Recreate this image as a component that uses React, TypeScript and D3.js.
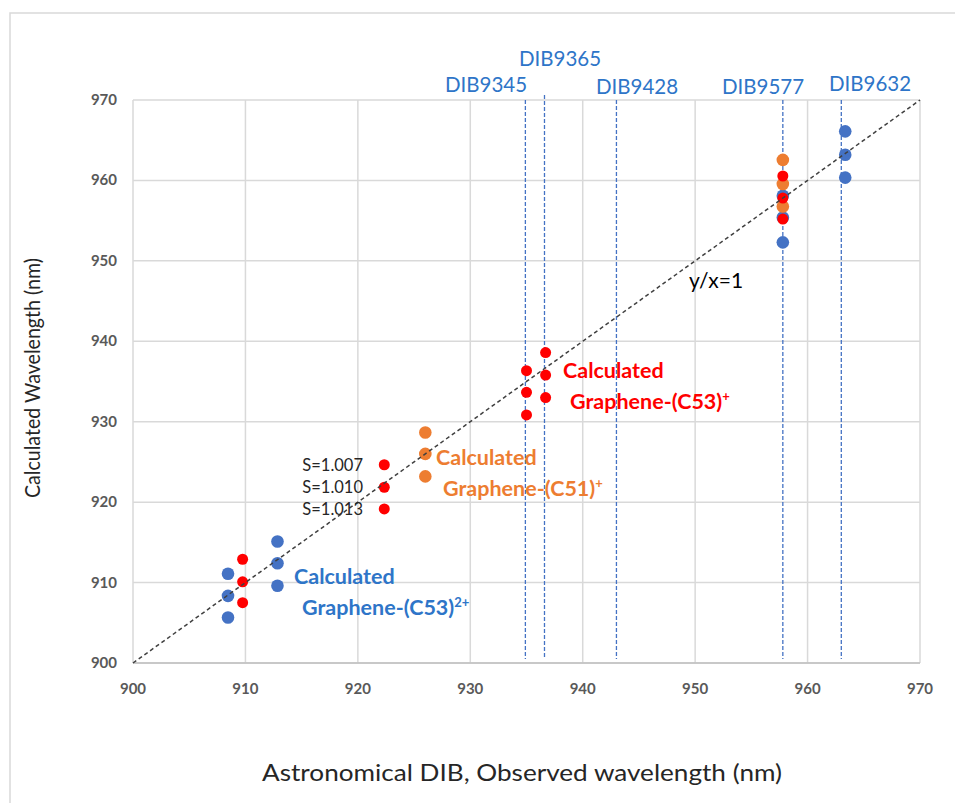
import React from "react";
import * as d3 from "d3";

const xTicks = [900, 910, 920, 930, 940, 950, 960, 970];
const yTicks = [900, 910, 920, 930, 940, 950, 960, 970];

const dibNames = ["DIB9345", "DIB9365", "DIB9428", "DIB9577", "DIB9632"];
const dibPositions = [934.9, 936.6, 943.0, 957.8, 963.0];

const c53DicationPoints = [
  { x: 908.45, y: 911.1 },
  { x: 908.45, y: 908.35 },
  { x: 908.45, y: 905.65 },
  { x: 912.85, y: 915.1 },
  { x: 912.85, y: 912.4 },
  { x: 912.85, y: 909.6 },
  { x: 957.8, y: 958.1 },
  { x: 957.8, y: 955.4 },
  { x: 957.8, y: 952.3 },
  { x: 963.35, y: 966.1 },
  { x: 963.35, y: 963.2 },
  { x: 963.35, y: 960.35 },
];

const c51CationPoints = [
  { x: 926.0, y: 928.65 },
  { x: 926.0, y: 926.0 },
  { x: 926.0, y: 923.2 },
  { x: 957.8, y: 962.55 },
  { x: 957.8, y: 959.55 },
  { x: 957.8, y: 956.75 },
];

const c53CationPoints = [
  { x: 909.75, y: 912.9 },
  { x: 909.75, y: 910.1 },
  { x: 909.75, y: 907.5 },
  { x: 922.35, y: 924.65 },
  { x: 922.35, y: 921.85 },
  { x: 922.35, y: 919.15 },
  { x: 935.0, y: 936.35 },
  { x: 935.0, y: 933.65 },
  { x: 935.0, y: 930.85 },
  { x: 936.7, y: 938.6 },
  { x: 936.7, y: 935.8 },
  { x: 936.7, y: 933.0 },
  { x: 957.8, y: 960.55 },
  { x: 957.8, y: 957.8 },
  { x: 957.8, y: 955.2 },
];

const scaleLabels = ["S=1.007", "S=1.010", "S=1.013"];
const scaleLabelY = [924.65, 921.85, 919.15];

const W = 955;
const H = 803;
const left = 133;
const right = 920;
const top = 100;
const bottom = 663;

const FONT = "Lato, 'Open Sans', sans-serif";
const BLUE = "#4472C4";
const ORANGE = "#ED7D31";
const RED = "#FF0000";
const LABEL_BLUE = "#2E75C8";

export default function App() {
  const x = d3.scaleLinear().domain([900, 970]).range([left, right]);
  const y = d3.scaleLinear().domain([900, 970]).range([bottom, top]);

  return (
    <svg
      width={W}
      height={H}
      style={{ position: "absolute", left: 0, top: 0, background: "#fff" }}
      fontFamily={FONT}
    >
      <rect x={10} y={13} width={W + 10} height={H + 10} fill="#fff" stroke="#d9d9d9" strokeWidth={1.5} />

      {/* gridlines */}
      {xTicks.map((t) => (
        <line key={"gx" + t} x1={x(t)} x2={x(t)} y1={top} y2={bottom} stroke="#d9d9d9" strokeWidth={1.5} />
      ))}
      {yTicks.map((t) => (
        <line key={"gy" + t} x1={left} x2={right} y1={y(t)} y2={y(t)} stroke="#d9d9d9" strokeWidth={1.5} />
      ))}
      <line x1={left} x2={right} y1={bottom} y2={bottom} stroke="#bfbfbf" strokeWidth={1.5} />

      {/* tick labels */}
      {yTicks.map((t) => (
        <text key={"ty" + t} x={117} y={y(t) + 5} textAnchor="end" fontSize={15} fontWeight="bold" fill="#595959">
          {t}
        </text>
      ))}
      {xTicks.map((t) => (
        <text key={"tx" + t} x={x(t)} y={y(900) + 31} textAnchor="middle" fontSize={15} fontWeight="bold" fill="#595959">
          {t}
        </text>
      ))}

      {/* DIB lines */}
      {dibPositions.map((d, i) => (
        <line
          key={"dib" + i}
          x1={x(d)}
          x2={x(d)}
          y1={i === 1 ? top - 5 : top}
          y2={bottom - 4}
          stroke={BLUE}
          strokeWidth={1.3}
          strokeDasharray="4,2"
        />
      ))}
      {dibNames.map((n, i) => {
        const lx = [486, 560, 637, 763, 870][i];
        const ly = [92, 66, 94, 94, 91][i];
        return (
          <text key={"dn" + i} x={lx} y={ly} textAnchor="middle" fontSize={20.5} fill={LABEL_BLUE}>
            {n}
          </text>
        );
      })}

      {/* points */}
      {c53DicationPoints.map((p, i) => (
        <circle key={"b" + i} cx={x(p.x)} cy={y(p.y)} r={6.3} fill={BLUE} />
      ))}
      {c51CationPoints.map((p, i) => (
        <circle key={"o" + i} cx={x(p.x)} cy={y(p.y)} r={6.3} fill={ORANGE} />
      ))}
      {c53CationPoints.map((p, i) => (
        <circle key={"r" + i} cx={x(p.x)} cy={y(p.y)} r={5.5} fill={RED} />
      ))}

      {/* y = x line */}
      <line
        x1={x(900)}
        y1={y(900)}
        x2={x(970)}
        y2={y(970)}
        stroke="#404040"
        strokeWidth={1.5}
        strokeDasharray="4,3"
      />
      <text x={689} y={288} fontSize={21} fill="#000">y/x=1</text>

      {/* S labels */}
      {scaleLabels.map((s, i) => (
        <text key={"s" + i} x={363} y={y(scaleLabelY[i]) + 6} textAnchor="end" fontSize={16.5} fill="#262626">
          {s}
        </text>
      ))}

      {/* annotations */}
      <text x={563} y={378} fontSize={21.5} fontWeight="bold" fill={RED}>Calculated</text>
      <text x={570} y={409} fontSize={21.5} fontWeight="bold" fill={RED}>
        Graphene-(C53)<tspan fontSize={13} dy={-8}>+</tspan>
      </text>

      <text x={436} y={465} fontSize={21.5} fontWeight="bold" fill={ORANGE}>Calculated</text>
      <text x={443} y={496} fontSize={21.5} fontWeight="bold" fill={ORANGE}>
        Graphene-(C51)<tspan fontSize={13} dy={-8}>+</tspan>
      </text>

      <text x={294} y={584} fontSize={21.5} fontWeight="bold" fill={LABEL_BLUE}>Calculated</text>
      <text x={302} y={615} fontSize={21.5} fontWeight="bold" fill={LABEL_BLUE}>
        Graphene-(C53)<tspan fontSize={13} dy={-8}>2+</tspan>
      </text>

      {/* axis titles */}
      <text
        x={522}
        y={781}
        textAnchor="middle"
        fontSize={23}
        fill="#262626"
        textLength={520}
        lengthAdjust="spacingAndGlyphs"
      >
        Astronomical DIB, Observed wavelength (nm)
      </text>
      <text
        transform="translate(40,378) rotate(-90)"
        textAnchor="middle"
        fontSize={21}
        fill="#262626"
        textLength={240}
        lengthAdjust="spacingAndGlyphs"
      >
        Calculated Wavelength (nm)
      </text>
    </svg>
  );
}
